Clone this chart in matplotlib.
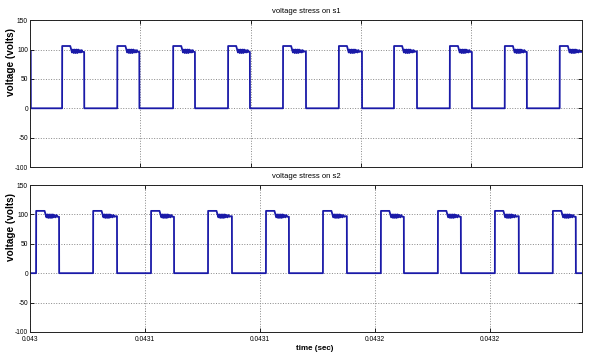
import numpy as np
import matplotlib
matplotlib.use("Agg")
import matplotlib.pyplot as plt

# times in microseconds after t = 0.043 s
t_start = 0.043
s1_span_us = 250.0
s2_span_us = 240.0

s1_rise_us = [14.5, 39.5, 64.8, 89.7, 114.6, 139.9, 164.9, 190.2, 215.1, 240.0]
s1_fall_us = [0.3, 24.5, 49.5, 74.7, 99.6, 125.0, 150.4, 175.3, 200.2, 225.1]

s2_rise_us = [2.6, 27.4, 52.6, 77.4, 102.6, 127.4, 152.6, 177.4, 202.2, 227.4]
s2_fall_us = [12.6, 37.8, 62.6, 87.8, 112.6, 137.8, 162.6, 187.4, 212.6, 237.4]

# shape of one "on" pulse: overshoot plateau then ringing (offset from rise, volts)
pulse_t_us = [0.0, 0.05, 3.7, 4.5, 4.9, 5.3, 5.7, 6.1, 6.5, 6.9, 7.3, 7.7, 8.1, 8.5, 8.9, 9.3, 10.0]
pulse_v = [0.0, 106, 106, 95, 100, 94, 100, 94, 100, 94, 100, 95, 99, 95, 99, 96, 97]

xtick_us = [0, 50, 100, 150, 200]
xtick_labels = ["0.043", "0.0431", "0.0431", "0.0432", "0.0432"]
yticks = [-100, -50, 0, 50, 100, 150]


def waveform(rises, falls, span):
    t = [0.0]
    v = [0.0]
    ev = sorted([(r, 1) for r in rises] + [(f, 0) for f in falls])
    # signal already high at t=0 if the first event is a fall
    if ev[0][1] == 0:
        v[0] = 97.0
    for i, (te, kind) in enumerate(ev):
        if kind == 1:
            nxt = ev[i + 1][0] if i + 1 < len(ev) else span
            for dt, pv in zip(pulse_t_us, pulse_v):
                if te + dt < nxt and te + dt <= span:
                    t.append(te + dt)
                    v.append(pv)
        else:
            t.append(te)
            v.append(v[-1])
            t.append(te + 0.05)
            v.append(0.0)
    t.append(span)
    v.append(v[-1])
    return t_start + np.array(t) * 1e-6, np.array(v)


narrow = ["Liberation Sans Narrow", "Liberation Sans", "DejaVu Sans"]

fig = plt.figure(figsize=(5.9, 3.6), dpi=100)
ax1 = fig.add_axes([0.051, 0.536, 0.935, 0.408])
ax2 = fig.add_axes([0.051, 0.078, 0.935, 0.408])

panels = [
    (ax1, s1_rise_us, s1_fall_us, s1_span_us, "voltage stress on s1"),
    (ax2, s2_rise_us, s2_fall_us, s2_span_us, "voltage stress on s2"),
]

for ax, r, f, span, title in panels:
    t, v = waveform(r, f, span)
    ax.plot(t, v, color="#1a1aa8", linewidth=1.3)
    ax.set_xlim(t_start, t_start + span * 1e-6)
    ax.set_ylim(-100, 150)
    ax.set_yticks(yticks)
    ax.set_yticklabels([str(y) for y in yticks], family=narrow, fontsize=4.8)
    ax.set_xticks([t_start + x * 1e-6 for x in xtick_us])
    ax.grid(True, linestyle=":", color="#888888", linewidth=0.7)
    ax.tick_params(direction="in", length=3, width=0.6, top=True, right=True, pad=1.5)
    for sp in ax.spines.values():
        sp.set_linewidth(0.7)
        sp.set_color("#222222")
    ax.set_title(title, family=narrow, fontsize=5.5, pad=5)
    ax.set_ylabel("voltage (volts)", family=["Liberation Sans", "DejaVu Sans"],
                  fontsize=7.2, fontweight="bold")
    ax.yaxis.set_label_coords(-0.026, 0.715)

ax1.set_xticklabels([])
ax2.set_xticklabels(xtick_labels, family=narrow, fontsize=4.8)
ax2.tick_params(axis="x", pad=3)
ax2.set_xlabel("time (sec)", family=narrow, fontsize=5.8, fontweight="bold", labelpad=3)
ax2.xaxis.set_label_coords(0.516, -0.09)

fig.savefig("out.png", dpi=100)
